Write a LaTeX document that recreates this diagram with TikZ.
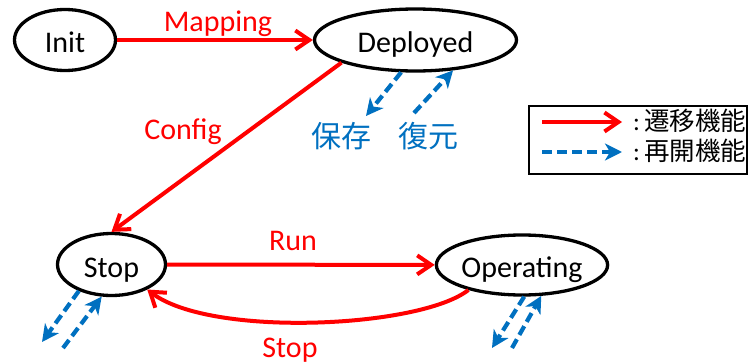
\documentclass[tikz,border=0pt]{standalone}
\usepackage{fontspec}
\setmainfont{Carlito}
\newfontfamily\cjk{Noto Sans CJK JP}
\usetikzlibrary{arrows.meta,shapes.geometric}
\definecolor{arrred}{RGB}{255,0,0}
\definecolor{arrblue}{RGB}{0,112,192}

\begin{document}
\begin{tikzpicture}[x=1pt,y=-1pt,
  state/.style={ellipse, draw=black, line width=3.3pt, inner sep=0pt,
    text height=25pt, text depth=0pt, font=\fontsize{30}{36}\selectfont},
  trans/.style={draw=arrred, line width=4pt,
    -{Straight Barb[length=14pt,width=19pt]}},
  resume/.style={draw=arrblue, line width=4.2pt, dash pattern=on 10pt off 5pt,
    -{Stealth[length=17pt,width=17pt,inset=5pt]}},
  tlabel/.style={text=arrred, font=\fontsize{30}{36}\selectfont,
    anchor=base, inner sep=0pt},
  clabel/.style={text=arrblue, font=\cjk\fontsize{30}{36}\selectfont,
    inner sep=0pt},
  legtext/.style={anchor=west, inner sep=0pt, font=\fontsize{25.5}{30}\selectfont},
]
\useasboundingbox (0,0) rectangle (753,364);

% states
\node[state, minimum width=101pt, minimum height=61pt] (init) at (65,40) {Init};
\node[state, minimum width=202pt, minimum height=62pt] (dep) at (415.5,40) {Deployed};
\node[state, minimum width=108pt, minimum height=62pt] (stop) at (111.5,264.5) {Stop};
\node[state, minimum width=167pt, minimum height=60pt] (op) at (522,265) {Operating};

% transitions
\draw[trans] (init) -- (dep);
\node[tlabel] (lmap) at (218,31.5) {Mapping};
\draw[trans] (dep.-163) -- (stop.north);
\node[tlabel] (lcfg) at (183,139) {Config};
\draw[trans] (stop) -- (op);
\node[tlabel] (lrun) at (293,250) {Run};
\draw[trans] (op.-155) .. controls (420,328) and (210,338) .. (stop.-35);
\node[tlabel] (lstop) at (290,357) {Stop};

% save / restore
\coordinate (dsave) at (366,116);
\coordinate (drest) at (414,113);
\draw[resume] (dep.-114) -- (dsave);
\draw[resume] (drest) -- (dep.-39);
\node[clabel] (lsave) at (341,136) {保存};
\node[clabel] (lrest) at (428,136) {復元};

\coordinate (ssave) at (42,342);
\coordinate (srest) at (63,348);
\draw[resume] (stop.-141) -- (ssave);
\draw[resume] (srest) -- (stop.-107);

\coordinate (osave) at (492,348);
\coordinate (orest) at (512,348);
\draw[resume] (op.-86) -- (osave);
\draw[resume] (orest) -- (op.-58);

% legend
\node[draw=black, line width=2pt, minimum width=218pt, minimum height=68pt,
  inner sep=0pt] (legend) at (638,140) {};
\coordinate (la1) at (542,122);
\coordinate (lb1) at (622,122);
\coordinate (la2) at (542,152);
\coordinate (lb2) at (622,152);
\draw[trans] (la1) -- (lb1);
\draw[resume] (la2) -- (lb2);
\node[legtext] (lt1) at (633,121) {:\,{\cjk 遷移機能}};
\node[legtext] (lt2) at (633,151) {:\,{\cjk 再開機能}};
\end{tikzpicture}
\end{document}
